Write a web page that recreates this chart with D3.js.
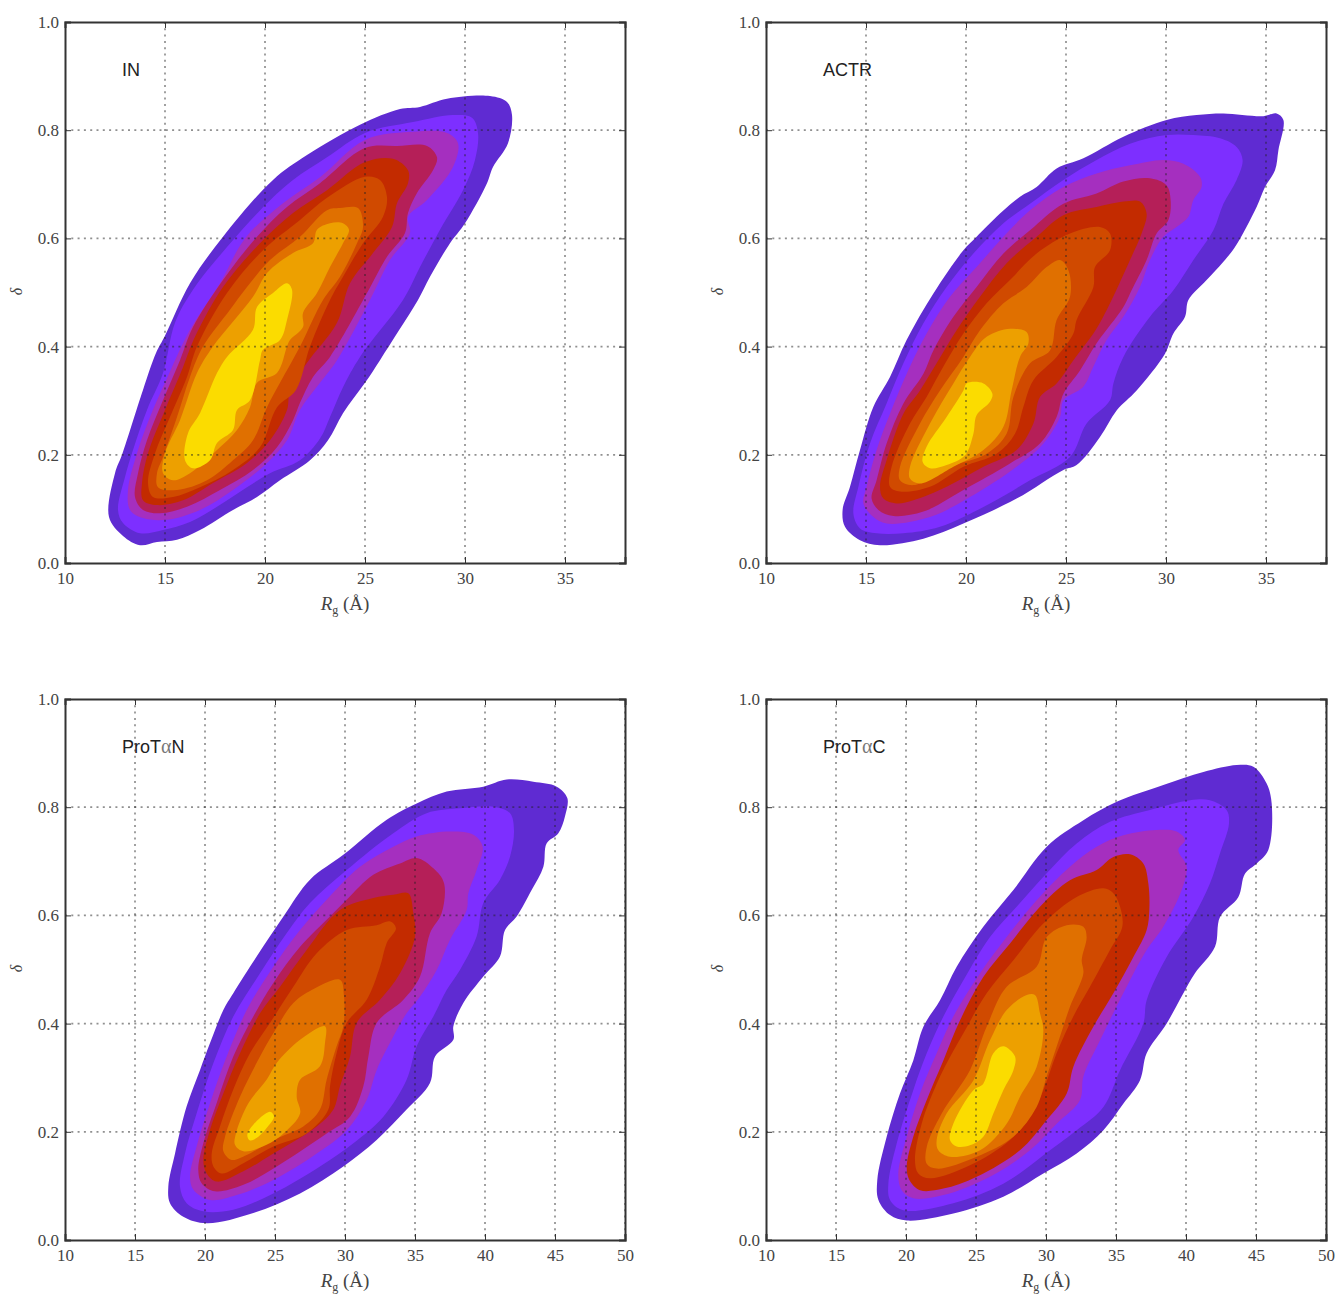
<!DOCTYPE html>
<html><head><meta charset="utf-8">
<script src="https://cdn.jsdelivr.net/npm/d3@7"></script>
<style>html,body{margin:0;background:#fff}svg{display:block}.band{filter:blur(0.5px)}</style></head>
<body><div id="chart"></div>
<script>
const bandColors=["#5f2bd2","#7d2fff","#a52fbf","#b51f58","#c32b00","#d04a00","#e07000","#eda000","#fbdc00"];
const yTicks=[0,0.2,0.4,0.6,0.8,1];
const xTicksShort=[10,15,20,25,30,35];
const xTicksLong=[10,15,20,25,30,35,40,45,50];

const inBands=[
[[13.75,.033],[12.9,.05],[12.2,.085],[12.5,.166],[12.85,.2],[13.9,.32],[14.55,.388],[15,.42],[16.25,.517],[17.9,.603],[20.4,.708],[22.1,.754],[24.75,.81],[26.75,.839],[27.75,.843],[29.1,.858],[31.25,.863],[32.1,.852],[32.35,.828],[32.15,.776],[31.4,.732],[31.1,.702],[30,.628],[29.25,.591],[28.25,.529],[27.65,.486],[26.7,.43],[25.75,.375],[25,.333],[23.9,.277],[23.15,.227],[22.25,.19],[20.75,.153],[19.6,.122],[18.4,.098],[16.75,.061],[15.6,.043],[14.6,.039]],
[[13.75,.055],[12.9,.074],[12.65,.098],[13,.159],[13.4,.209],[14.1,.283],[14.9,.351],[15.5,.444],[16.4,.505],[18.1,.584],[20.1,.665],[21.4,.708],[23.1,.75],[25,.795],[27.4,.815],[29.4,.828],[30.35,.823],[30.65,.795],[30.5,.745],[29.9,.689],[28.75,.616],[27.75,.547],[26.9,.486],[24.75,.381],[23.9,.325],[23.25,.27],[22.75,.23],[21.75,.19],[20.25,.166],[19.1,.14],[17.6,.104],[16.25,.076],[14.9,.061]],
[[13.9,.083],[13.25,.098],[13.15,.135],[13.6,.203],[14.25,.27],[15,.333],[16.25,.431],[17.75,.517],[19,.6],[20.9,.665],[22.75,.713],[25,.782],[27.4,.797],[29.1,.795],[29.65,.776],[29.4,.732],[28.1,.671],[27.15,.64],[27.25,.61],[26.25,.56],[25.25,.486],[23.6,.375],[22.75,.333],[21.75,.283],[21.1,.227],[20.1,.185],[18.4,.135],[16.75,.098],[15.1,.08]],
[[13.9,.098],[13.5,.122],[13.65,.166],[14.1,.227],[14.9,.301],[15.75,.375],[16.4,.436],[17.9,.523],[19.6,.603],[21.1,.658],[22.75,.702],[25,.767],[26.6,.771],[28.1,.771],[28.6,.75],[28.4,.726],[27.6,.684],[27.15,.647],[27,.61],[26.1,.566],[25.1,.499],[23.25,.381],[22.4,.344],[21.75,.296],[21.4,.264],[20.6,.214],[19.4,.172],[17.75,.135],[16.1,.104],[14.75,.092]],
[[13.9,.116],[13.85,.148],[14.15,.203],[15,.283],[15.9,.362],[16.5,.418],[17.9,.51],[19.75,.591],[21.4,.647],[23.1,.689],[25,.741],[26.4,.747],[27.15,.726],[27.15,.702],[26.6,.665],[26.35,.621],[25.4,.573],[24.25,.517],[23.6,.444],[22.1,.37],[21.25,.32],[21.1,.283],[20.25,.227],[19.1,.185],[17.4,.148],[15.9,.116],[14.6,.107]],
[[14.4,.122],[14.15,.148],[14.5,.203],[15.25,.27],[16.1,.344],[16.6,.4],[18.1,.499],[19.9,.578],[21.75,.634],[23.1,.675],[25,.714],[25.75,.708],[26.1,.676],[25.9,.64],[24.9,.591],[23.9,.529],[23.25,.486],[22.25,.4],[21.55,.32],[20.6,.288],[19.75,.214],[18.4,.172],[16.75,.14],[15.4,.122]],
[[14.65,.14],[14.6,.166],[14.9,.196],[15.6,.27],[16.25,.344],[16.9,.4],[18.25,.468],[19.1,.51],[20.25,.56],[21.75,.603],[23.1,.652],[23.75,.656],[24.65,.656],[24.9,.621],[24.6,.591],[23.75,.529],[22.9,.486],[21.75,.4],[20.75,.333],[20.1,.288],[19.4,.227],[18.4,.19],[17.1,.153],[15.6,.135]],
[[15.4,.153],[14.9,.166],[15,.203],[15.75,.264],[16.6,.351],[17.4,.4],[19.4,.492],[20.1,.536],[21.4,.573],[22.4,.591],[22.6,.616],[23.25,.628],[23.9,.628],[24.2,.616],[23.9,.591],[23.25,.547],[22.6,.499],[21.9,.462],[21.9,.436],[21.25,.412],[21.1,.4],[20.6,.351],[19.6,.333],[19.25,.288],[18.6,.246],[17.6,.209],[16.25,.166]],
[[16.4,.175],[16,.19],[16.15,.24],[16.75,.277],[17.6,.351],[18.1,.381],[19.4,.431],[19.6,.473],[20.4,.499],[21.1,.517],[21.35,.505],[21.1,.449],[20.75,.412],[19.9,.394],[19.75,.375],[19.25,.301],[18.6,.283],[18.4,.246],[17.6,.222],[17.25,.19]]
];

const actrBands=[
[[15.7,.033],[14.7,.042],[13.95,.067],[13.83,.098],[14.2,.141],[14.7,.209],[15.37,.289],[16.2,.344],[17.03,.412],[18.37,.498],[19.87,.578],[20.53,.603],[21.7,.646],[22.7,.677],[23.53,.695],[24.53,.729],[25.87,.748],[27.87,.788],[30.03,.819],[31.53,.828],[32.87,.831],[34.87,.826],[35.53,.831],[35.87,.819],[35.62,.763],[35.45,.726],[34.95,.695],[34.53,.658],[33.45,.584],[32.87,.557],[32.03,.523],[31.12,.486],[30.95,.455],[30.37,.424],[29.95,.387],[28.53,.319],[27.53,.282],[26.7,.233],[25.53,.181],[24.87,.172],[22.53,.119],[19.87,.073],[17.87,.045]],
[[15.53,.055],[14.7,.064],[14.37,.091],[14.62,.141],[15.2,.221],[16.03,.295],[16.87,.369],[17.87,.443],[19.03,.51],[20.37,.572],[21.87,.628],[23.2,.664],[24.87,.708],[26.53,.745],[28.2,.775],[30.03,.791],[31.37,.791],[32.7,.785],[33.53,.769],[33.83,.745],[33.53,.708],[32.87,.664],[32.37,.615],[31.37,.56],[30.37,.504],[29.2,.455],[27.87,.381],[27.37,.332],[27.2,.301],[26.03,.258],[25.2,.196],[23.2,.153],[21.2,.11],[18.7,.067],[16.87,.055]],
[[16.03,.073],[15.37,.085],[14.87,.11],[15.03,.141],[15.53,.209],[16.2,.276],[17.2,.363],[18.03,.424],[19.2,.492],[20.53,.547],[21.87,.603],[23.2,.652],[24.87,.695],[26.53,.72],[28.2,.735],[29.87,.745],[30.87,.738],[31.7,.714],[31.78,.695],[31.37,.671],[31.12,.64],[30.53,.621],[29.87,.603],[29.2,.56],[28.7,.51],[27.87,.455],[27.03,.412],[26.37,.363],[25.87,.326],[24.87,.301],[24.7,.27],[23.87,.221],[22.53,.178],[20.2,.122],[18.2,.085]],
[[16.37,.087],[15.62,.098],[15.28,.119],[15.53,.153],[16.03,.221],[16.87,.295],[17.87,.35],[18.37,.393],[19.37,.455],[20.53,.51],[21.87,.572],[23.2,.615],[24.87,.664],[26.53,.683],[27.87,.705],[29.2,.711],[30.03,.698],[30.23,.671],[30.12,.634],[29.53,.609],[29.03,.56],[28.28,.504],[27.87,.473],[26.53,.406],[25.7,.356],[24.87,.313],[24.53,.27],[23.7,.221],[22.2,.184],[19.87,.135],[17.87,.095]],
[[16.53,.11],[15.87,.119],[15.7,.141],[16.03,.19],[16.87,.276],[17.7,.319],[18.53,.369],[19.53,.43],[20.7,.492],[22.03,.554],[23.53,.603],[24.87,.643],[26.53,.658],[27.87,.668],[28.7,.668],[29.03,.646],[28.78,.609],[28.2,.56],[27.03,.467],[26.37,.424],[25.37,.375],[24.53,.332],[23.7,.307],[23.37,.258],[22.53,.209],[20.87,.178],[19.03,.141],[17.37,.116]],
[[16.7,.132],[16.2,.141],[16.28,.178],[17.2,.258],[18.03,.307],[18.87,.363],[19.87,.424],[21.03,.48],[22.2,.523],[23.53,.572],[25.2,.609],[26.7,.621],[27.2,.609],[27.2,.578],[26.45,.547],[26.37,.51],[25.53,.449],[25.37,.424],[24.53,.381],[23.37,.338],[22.87,.289],[22.45,.239],[21.53,.202],[19.87,.178],[18.2,.141]],
[[17.37,.144],[16.7,.153],[16.7,.178],[17.7,.258],[18.7,.319],[19.87,.381],[20.7,.43],[21.87,.48],[23.03,.51],[24.03,.547],[24.7,.56],[25.12,.541],[25.2,.492],[24.53,.449],[24.2,.393],[23.2,.369],[22.37,.307],[22.03,.239],[21.03,.202],[19.2,.178]],
[[17.7,.147],[17.2,.156],[17.2,.178],[18.2,.258],[19.37,.332],[20.2,.381],[21.03,.418],[22.2,.433],[23.03,.427],[23.12,.406],[22.7,.381],[22.28,.319],[21.87,.252],[20.87,.209],[19.37,.178]],
[[18.2,.175],[17.83,.187],[18.03,.215],[19.03,.27],[19.87,.319],[20.03,.332],[20.87,.332],[21.32,.313],[21.2,.298],[20.53,.273],[20.37,.239],[19.95,.199],[19.03,.181]]
];

const protaNBands=[
[[20.12,.031],[18.45,.043],[17.5,.068],[17.38,.099],[17.86,.16],[18.69,.247],[19.64,.314],[20.36,.364],[21.31,.425],[22.02,.456],[23.69,.524],[25.6,.598],[27.5,.666],[29.88,.712],[32.98,.777],[35.12,.807],[37.26,.829],[39.88,.838],[41.55,.851],[43.45,.847],[45.12,.838],[45.88,.817],[45.71,.783],[45.24,.752],[44.4,.733],[44.17,.69],[43.33,.647],[42.26,.598],[41.43,.573],[41.07,.524],[39.88,.487],[38.45,.438],[37.74,.395],[37.74,.37],[36.43,.339],[36.07,.29],[34.4,.241],[32.26,.185],[29.88,.136],[26.79,.086],[23.45,.05]],
[[19.88,.053],[18.69,.068],[18.21,.099],[18.57,.16],[19.4,.234],[20.6,.327],[22.02,.413],[23.93,.493],[25.83,.567],[27.5,.623],[30.12,.684],[33.45,.752],[35.83,.789],[38.21,.798],[40.6,.801],[41.79,.789],[42.07,.758],[41.79,.709],[41.07,.666],[39.88,.623],[39.4,.561],[38.21,.499],[37.26,.462],[36.31,.413],[35.12,.358],[34.4,.296],[32.74,.228],[30.6,.179],[28.21,.136],[24.88,.086],[22.02,.056]],
[[20.36,.074],[19.17,.093],[18.93,.117],[19.4,.173],[20.36,.253],[21.55,.339],[22.98,.425],[24.88,.505],[26.79,.573],[28.69,.629],[31.07,.69],[33.45,.727],[35.12,.746],[37.5,.755],[39.17,.749],[39.83,.727],[39.4,.684],[38.81,.641],[38.69,.61],[37.5,.555],[36.55,.499],[35.36,.45],[34.4,.419],[33.45,.376],[32.26,.314],[31.55,.259],[30.12,.203],[27.98,.16],[24.88,.111],[22.26,.083]],
[[20.71,.09],[19.76,.105],[19.52,.13],[19.88,.179],[20.83,.253],[22.02,.339],[23.45,.413],[24.88,.475],[26.79,.542],[28.93,.598],[30.12,.629],[32.02,.675],[33.93,.696],[35.12,.706],[36.31,.687],[37.07,.66],[36.9,.604],[36.07,.567],[35.36,.487],[34.17,.444],[32.26,.401],[31.67,.339],[31.31,.284],[30.36,.228],[28.69,.197],[25.12,.136],[22.74,.102]],
[[20.83,.108],[20.12,.123],[19.88,.148],[20.36,.204],[21.31,.271],[22.5,.345],[23.93,.419],[25.36,.468],[27.26,.536],[29.64,.61],[32.02,.632],[33.45,.638],[34.52,.641],[34.88,.604],[35,.561],[33.93,.493],[32.5,.444],[30.83,.401],[30.36,.339],[29.64,.284],[29.17,.241],[27.98,.21],[24.88,.16],[22.74,.127]],
[[21.19,.123],[20.6,.136],[20.48,.16],[21.07,.21],[22.02,.278],[23.21,.345],[24.64,.401],[26.31,.468],[27.98,.53],[30.12,.573],[32.26,.582],[33.21,.589],[33.64,.576],[32.98,.549],[32.5,.505],[31.55,.444],[30.12,.401],[29.4,.345],[28.93,.284],[28.81,.241],[27.26,.197],[24.88,.173],[22.74,.142]],
[[21.9,.148],[21.31,.164],[21.43,.191],[22.5,.265],[23.93,.339],[24.88,.382],[26.31,.438],[27.62,.462],[29.64,.481],[29.93,.45],[29.88,.395],[29.4,.358],[28.69,.296],[28.21,.241],[27.02,.21],[24.88,.185],[22.98,.157]],
[[22.74,.164],[22.14,.176],[22.21,.197],[23.1,.253],[24.4,.296],[25.12,.327],[26.79,.37],[28.57,.395],[28.57,.364],[28.21,.321],[26.79,.296],[26.55,.265],[26.79,.234],[25.6,.197],[24.4,.176]],
[[23.21,.184],[23.02,.194],[23.45,.213],[24.64,.237],[24.93,.228],[24.4,.207],[23.81,.191]]
];

const protaCBands=[
[[20.05,.036],[18.86,.046],[18.03,.074],[17.95,.111],[18.62,.191],[19.57,.271],[20.52,.332],[21.24,.394],[22.43,.443],[23.62,.505],[25.52,.579],[27.67,.647],[30.05,.727],[32.67,.776],[35.05,.81],[38.38,.841],[41.24,.865],[43.62,.878],[44.81,.875],[45.76,.844],[46.12,.807],[45.88,.721],[45.05,.696],[44.21,.677],[43.74,.634],[42.43,.597],[42.07,.542],[40.64,.493],[39.81,.456],[38.62,.4],[37.19,.345],[36.71,.295],[35.52,.252],[34.1,.203],[32.19,.16],[29.81,.123],[26.95,.08],[23.38,.049]],
[[19.81,.055],[18.86,.074],[18.74,.104],[19.33,.178],[20.52,.277],[21.48,.345],[22.67,.413],[24.1,.48],[26,.56],[27.9,.616],[30.05,.678],[32.19,.733],[34.57,.773],[37.43,.795],[40.29,.813],[41.71,.813],[42.9,.795],[43.07,.77],[42.43,.715],[41.71,.659],[40.52,.597],[38.62,.523],[37.19,.443],[36.95,.4],[35.29,.314],[34.1,.246],[32.19,.203],[30.29,.166],[26.95,.104],[23.38,.068]],
[[20.52,.077],[19.69,.092],[19.45,.123],[20.05,.191],[21,.271],[22.19,.345],[23.38,.413],[25.29,.493],[27.19,.56],[29.33,.628],[31.71,.69],[33.62,.727],[35.52,.748],[37.9,.758],[39.33,.755],[39.93,.739],[39.45,.721],[40.05,.69],[39.69,.647],[38.38,.579],[37.19,.536],[35.52,.456],[33.86,.369],[32.67,.302],[32.43,.259],[30.76,.215],[28.86,.166],[26,.117],[22.67,.083]],
[[21,.092],[20.24,.111],[20.05,.135],[20.52,.191],[21.48,.259],[22.67,.332],[23.86,.406],[25.52,.486],[27.43,.548],[29.57,.616],[31.71,.665],[33.62,.684],[34.81,.708],[36,.713],[36.95,.696],[37.31,.659],[37.38,.61],[37.19,.573],[36.24,.523],[34.81,.456],[33.38,.394],[31.95,.32],[31.48,.271],[30.05,.222],[28.14,.166],[25.05,.117],[22.67,.095]],
[[21.71,.114],[20.88,.123],[20.64,.148],[21.12,.215],[22.43,.302],[24.1,.382],[25.76,.456],[27.67,.517],[29.81,.585],[32.19,.634],[34.1,.65],[34.81,.641],[35.29,.616],[35.45,.579],[34.57,.536],[33.14,.468],[31.95,.413],[30.76,.345],[29.81,.277],[28.86,.228],[27.43,.185],[24.57,.138]],
[[22.19,.132],[21.48,.141],[21.48,.172],[22.55,.234],[24.57,.314],[25.76,.394],[27.19,.468],[29.33,.505],[30.05,.56],[31.48,.582],[32.67,.579],[32.9,.56],[32.55,.517],[32.67,.493],[31.71,.431],[31,.376],[30.05,.302],[29.33,.246],[27.67,.191],[25.05,.154]],
[[23.14,.154],[22.31,.166],[22.19,.185],[22.9,.234],[24.81,.295],[26,.369],[27.19,.425],[28.62,.453],[29.21,.453],[29.57,.419],[29.81,.388],[29.33,.32],[28.14,.265],[27.19,.215],[25.29,.166]],
[[23.62,.173],[23.14,.185],[23.38,.215],[24.81,.277],[25.52,.289],[26.24,.345],[26.95,.358],[27.79,.339],[27.67,.314],[26.95,.277],[26.24,.234],[25.52,.191],[24.57,.175]]
];
const protaCColorIndex=[0,1,2,4,5,6,7,8];

const panels=[
 {name:["IN"],left:65,top:22,xMax:38,xTicks:xTicksShort,bands:inBands,idx:d3.range(9)},
 {name:["ACTR"],left:766,top:22,xMax:38,xTicks:xTicksShort,bands:actrBands,idx:d3.range(9)},
 {name:["ProT","α","N"],left:65,top:699,xMax:50,xTicks:xTicksLong,bands:protaNBands,idx:d3.range(9)},
 {name:["ProT","α","C"],left:766,top:699,xMax:50,xTicks:xTicksLong,bands:protaCBands,idx:protaCColorIndex}
];
const W=560,H=541,serif="'Liberation Serif','DejaVu Serif',serif";
const svg=d3.select("#chart").append("svg").attr("width",1336).attr("height",1294);

panels.forEach(p=>{
  const g=svg.append("g").attr("transform",`translate(${p.left},${p.top})`);
  const x=d3.scaleLinear().domain([10,p.xMax]).range([0,W]);
  const y=d3.scaleLinear().domain([0,1]).range([H,0]);
  const line=d3.line().x(d=>x(d[0])).y(d=>y(d[1])).curve(d3.curveCatmullRomClosed.alpha(0.5));
  g.selectAll("path.band").data(p.bands).join("path").attr("class","band")
    .attr("d",line).attr("fill",(d,i)=>bandColors[p.idx[i]]);
  g.selectAll("line.gx").data(p.xTicks.slice(1)).join("line").attr("class","gx")
    .attr("x1",d=>x(d)).attr("x2",d=>x(d)).attr("y1",0).attr("y2",H);
  g.selectAll("line.gy").data(yTicks.slice(1,-1)).join("line").attr("class","gy")
    .attr("x1",0).attr("x2",W).attr("y1",d=>y(d)).attr("y2",d=>y(d));
  g.selectAll("line.gx,line.gy").attr("stroke","#222").attr("stroke-opacity",.5)
    .attr("stroke-width",1.7).attr("stroke-dasharray","2 4.3");
  const ax=[
    d3.axisBottom(x).tickValues(p.xTicks).tickSize(-6).tickPadding(9).tickFormat(d3.format("d")),
    d3.axisLeft(y).tickValues(yTicks).tickSize(-6).tickPadding(6).tickFormat(d3.format(".1f")),
    d3.axisTop(x).tickValues(p.xTicks).tickSize(-6).tickFormat(""),
    d3.axisRight(y).tickValues(yTicks).tickSize(-6).tickFormat("")
  ];
  const tr=[`translate(0,${H})`,"","",`translate(${W},0)`];
  ax.forEach((a,i)=>{
    const s=g.append("g").attr("transform",tr[i]).call(a);
    s.select(".domain").attr("stroke","#333").attr("stroke-width",2);
    s.selectAll(".tick line").attr("stroke","#333").attr("stroke-width",1);
    s.selectAll("text").attr("font-family",serif).attr("font-size",17).attr("fill","#444");
  });
  const label=g.append("text").attr("x",57).attr("y",54).attr("font-family","'Liberation Sans',Arial,sans-serif")
    .attr("font-size",18).attr("fill","#222");
  p.name.forEach(t=>{
    const greek=t==="α";
    label.append("tspan").text(t).attr("font-family",greek?serif:null)
      .attr("font-size",greek?20:null).attr("fill",greek?"#777":null);
  });
  const xl=g.append("text").attr("x",W/2).attr("y",H+47).attr("text-anchor","middle")
    .attr("font-family",serif).attr("font-size",19).attr("fill","#444");
  xl.append("tspan").attr("font-style","italic").text("R");
  xl.append("tspan").attr("font-size",12).attr("dy",4).text("g");
  xl.append("tspan").attr("dy",-4).text(" (Å)");
  g.append("text").attr("transform",`translate(-43,${H/2-1}) rotate(-90)`).attr("text-anchor","middle")
    .attr("font-family",serif).attr("font-style","italic").attr("font-size",16).attr("fill","#444").text("δ");
});
</script></body></html>
